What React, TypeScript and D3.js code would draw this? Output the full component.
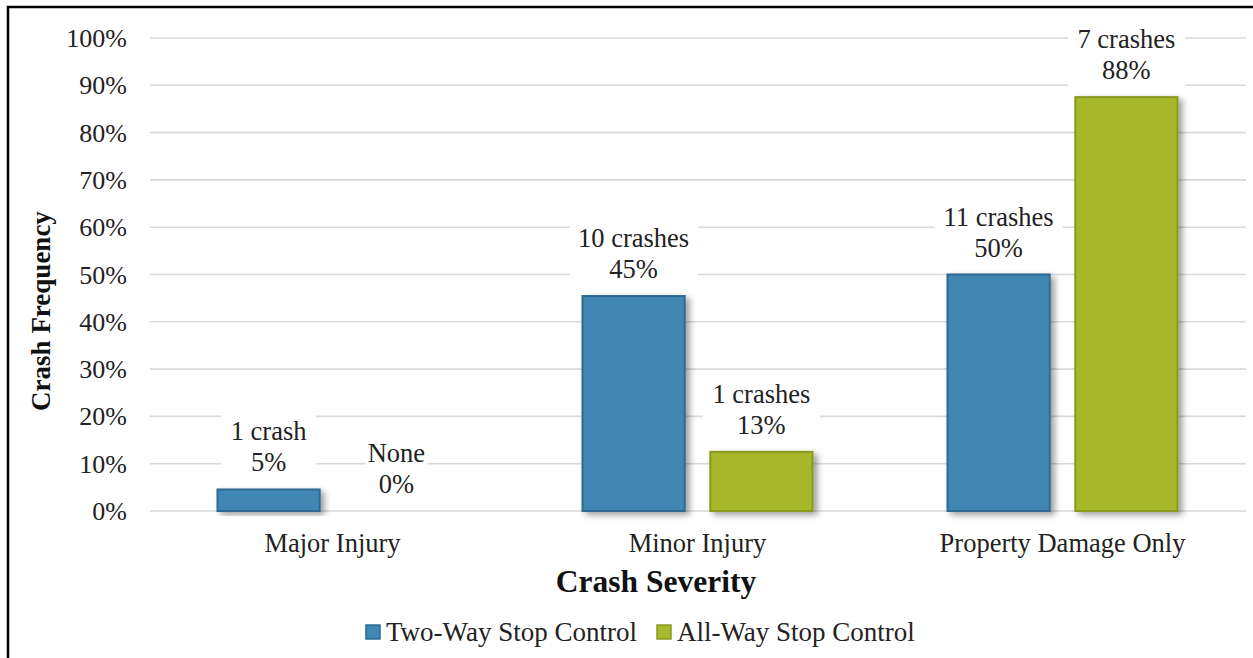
import React from "react";
import * as d3 from "d3";

const categories = ["Major Injury", "Minor Injury", "Property Damage Only"];
const seriesNames = ["Two-Way Stop Control", "All-Way Stop Control"];
const twoWayValues = [4.55, 45.45, 50];
const allWayValues = [0, 12.5, 87.5];
const twoWayCounts = ["1 crash", "10 crashes", "11 crashes"];
const allWayCounts = ["None", "1 crashes", "7 crashes"];
const yTicks = [0, 10, 20, 30, 40, 50, 60, 70, 80, 90, 100];

const colors = ["#4087b4", "#a6b72b"];
const strokes = ["#2d6a91", "#879a1e"];

const W = 1253;
const H = 658;
const FONT = "Liberation Serif, Times New Roman, serif";

export default function App() {
  const x = d3.scaleBand<string>().domain(categories).range([150, 1245]).padding(0);
  const band = x.bandwidth();
  const outer = (band - 230) / 2;
  const xs = d3.scaleBand<string>().domain(seriesNames).range([outer, outer + 230]).paddingInner(0.2);
  const y = d3.scaleLinear().domain([0, 100]).range([511, 38]);

  const series = [
    { name: seriesNames[0], values: twoWayValues, counts: twoWayCounts },
    { name: seriesNames[1], values: allWayValues, counts: allWayCounts },
  ];

  const charW = (s: string) => s.length * 11;
  const ts = { fontFamily: FONT, fontWeight: 400 as const };
  const tb = { fontFamily: FONT, fontWeight: 700 as const };

  return (
    <svg width={W} height={H} style={{ position: "absolute", left: 0, top: 0, background: "#fff" }}>
      <defs>
        <filter id="shadow" x="-20%" y="-20%" width="150%" height="140%">
          <feDropShadow dx="4" dy="3" stdDeviation="3" floodColor="#000" floodOpacity="0.38" />
        </filter>
      </defs>
      <rect x={0} y={0} width={W} height={H} fill="#fff" />
      {yTicks.map((t) => (
        <line key={"g" + t} x1={150} x2={1246} y1={y(t)} y2={y(t)} stroke="#d9d9d9" strokeWidth={1.6} />
      ))}
      {yTicks.map((t) => (
        <text key={"t" + t} x={127} y={y(t) + 9} textAnchor="end" fontSize={26} fill="#222" style={ts}>
          {t + "%"}
        </text>
      ))}
      {series.map((s, si) =>
        categories.map((c, ci) => {
          const v = s.values[ci];
          if (v <= 0) return null;
          const bx = (x(c) ?? 0) + (xs(s.name) ?? 0);
          return (
            <rect
              key={s.name + c}
              x={bx}
              y={y(v)}
              width={xs.bandwidth()}
              height={y(0) - y(v)}
              fill={colors[si]}
              stroke={strokes[si]}
              strokeWidth={2}
              filter="url(#shadow)"
            />
          );
        })
      )}
      {series.map((s, si) =>
        categories.map((c, ci) => {
          const v = s.values[ci];
          const cx = (x(c) ?? 0) + (xs(s.name) ?? 0) + xs.bandwidth() / 2;
          const b2 = y(v) - 18;
          const b1 = b2 - 31;
          const l1 = s.counts[ci];
          const l2 = Math.round(v) + "%";
          const w = Math.max(charW(l1), charW(l2)) + 18;
          return (
            <g key={"l" + s.name + c}>
              <rect x={cx - w / 2} y={b1 - 30} width={w} height={b2 - b1 + 39} fill="#fff" />
              <text x={cx} y={b1} textAnchor="middle" fontSize={26.5} fill="#222" style={ts}>{l1}</text>
              <text x={cx} y={b2} textAnchor="middle" fontSize={26.5} fill="#222" style={ts}>{l2}</text>
            </g>
          );
        })
      )}
      {categories.map((c) => (
        <text key={"c" + c} x={(x(c) ?? 0) + band / 2} y={552} textAnchor="middle" fontSize={26.5} fill="#222" style={ts}>
          {c}
        </text>
      ))}
      <text x={656} y={592} textAnchor="middle" fontSize={31.5} fill="#111" style={tb}>Crash Severity</text>
      <text transform="translate(50,311) rotate(-90)" textAnchor="middle" fontSize={27} fill="#111" style={tb}>
        Crash Frequency
      </text>
      {[
        { sx: 366, tx: 386 },
        { sx: 657, tx: 677 },
      ].map((p, i) => (
        <g key={"lg" + i}>
          <rect x={p.sx} y={625} width={14} height={14} fill={colors[i]} stroke={strokes[i]} strokeWidth={1.5} />
          <text x={p.tx} y={641} fontSize={27} fill="#222" style={ts}>{seriesNames[i]}</text>
        </g>
      ))}
      <rect x={8} y={7} width={1270} height={700} fill="none" stroke="#000" strokeWidth={2.5} />
    </svg>
  );
}
